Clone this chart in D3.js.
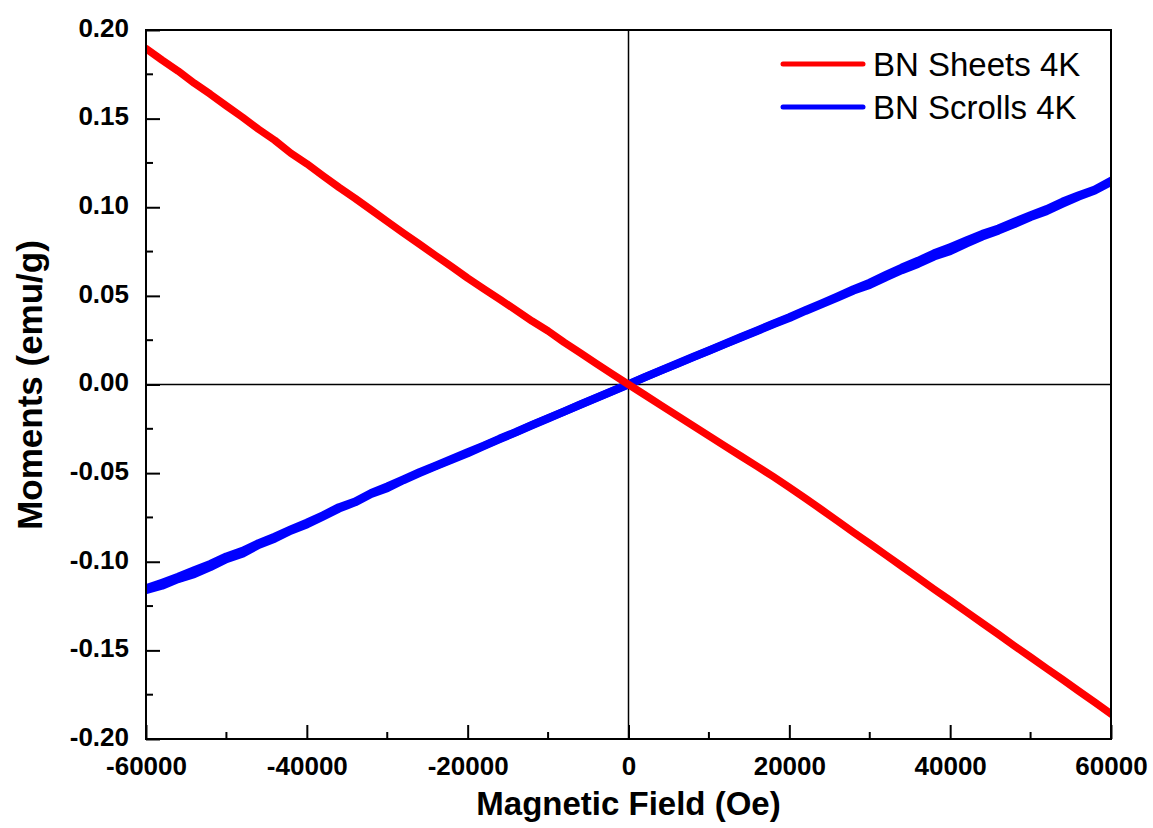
<!DOCTYPE html>
<html>
<head>
<meta charset="utf-8">
<script src="https://cdn.jsdelivr.net/npm/d3@7"></script>
<style>
  html, body { margin: 0; padding: 0; background: #fff; }
  svg { display: block; }
  text { font-family: "Liberation Sans", Arial, sans-serif; fill: #000; }
</style>
</head>
<body>
<svg id="chart" width="1153" height="828"></svg>
<script>
// ---- Data ----
const field = [
  -60000,-58000,-56000,-54000,-52000,-50000,-48000,-46000,-44000,-42000,
  -40000,-38000,-36000,-34000,-32000,-30000,-28000,-26000,-24000,-22000,
  -20000,-18000,-16000,-14000,-12000,-10000,-8000,-6000,-4000,-2000,
  0,2000,4000,6000,8000,10000,12000,14000,16000,18000,
  20000,22000,24000,26000,28000,30000,32000,34000,36000,38000,
  40000,42000,44000,46000,48000,50000,52000,54000,56000,58000,60000
];
const sheets4K = [
  0.1895,0.1830,0.1768,0.1700,0.1638,0.1572,0.1508,0.1440,0.1378,0.1305,
  0.1245,0.1178,0.1112,0.1050,0.0985,0.0920,0.0855,0.0792,0.0728,0.0665,
  0.0600,0.0540,0.0480,0.0420,0.0358,0.0302,0.0238,0.0178,0.0118,0.0058,
  0.0000,-0.0058,-0.0116,-0.0174,-0.0232,-0.0290,-0.0348,-0.0405,-0.0462,-0.0520,
  -0.0580,-0.0642,-0.0706,-0.0770,-0.0835,-0.0898,-0.0962,-0.1026,-0.1090,-0.1155,
  -0.1218,-0.1282,-0.1346,-0.1410,-0.1475,-0.1538,-0.1602,-0.1665,-0.1730,-0.1793,-0.1858
];
const scrolls4KUp = [
  -0.1160,-0.1135,-0.1098,-0.1070,-0.1030,-0.0985,-0.0955,-0.0905,-0.0870,-0.0825,
  -0.0790,-0.0745,-0.0700,-0.0665,-0.0618,-0.0585,-0.0540,-0.0500,-0.0462,-0.0425,
  -0.0388,-0.0348,-0.0308,-0.0270,-0.0230,-0.0192,-0.0153,-0.0114,-0.0076,-0.0038,
  0.0000,0.0040,0.0078,0.0115,0.0153,0.0190,0.0228,0.0265,0.0302,0.0340,
  0.0375,0.0415,0.0452,0.0490,0.0530,0.0562,0.0605,0.0645,0.0680,0.0722,
  0.0752,0.0795,0.0835,0.0868,0.0905,0.0945,0.0978,0.1020,0.1060,0.1095,0.1142
];
const scrolls4KDown = [
  -0.1150,-0.1118,-0.1085,-0.1048,-0.1012,-0.0970,-0.0938,-0.0895,-0.0858,-0.0818,
  -0.0780,-0.0738,-0.0692,-0.0660,-0.0612,-0.0575,-0.0535,-0.0495,-0.0458,-0.0420,
  -0.0382,-0.0345,-0.0305,-0.0268,-0.0228,-0.0190,-0.0152,-0.0113,-0.0075,-0.0037,
  0.0002,0.0041,0.0079,0.0117,0.0155,0.0192,0.0230,0.0268,0.0305,0.0343,
  0.0380,0.0420,0.0458,0.0497,0.0538,0.0575,0.0618,0.0660,0.0698,0.0740,
  0.0775,0.0812,0.0850,0.0880,0.0918,0.0955,0.0990,0.1032,0.1068,0.1100,0.1150
];
const xTicks = [-60000,-40000,-20000,0,20000,40000,60000];
const yTicks = [-0.20,-0.15,-0.10,-0.05,0.00,0.05,0.10,0.15,0.20];
const seriesNames = ["BN Sheets 4K","BN Scrolls 4K"];
const seriesColors = ["#ff0000","#0000ff"];

// ---- Layout ----
const svg = d3.select("#chart");
const L = 146, R = 1111, T = 30, B = 739;
const x = d3.scaleLinear().domain([-60000, 60000]).range([L, R]);
const y = d3.scaleLinear().domain([-0.20, 0.20]).range([B, T]);

const line = d3.line().x(d => x(d[0])).y(d => y(d[1]));

svg.append("defs").append("clipPath").attr("id", "plotclip")
  .append("rect").attr("x", L).attr("y", T).attr("width", R - L).attr("height", B - T);

// zero lines
svg.append("line").attr("x1", x(0)).attr("x2", x(0)).attr("y1", T).attr("y2", B)
  .attr("stroke", "#000").attr("stroke-width", 1.5);
svg.append("line").attr("x1", L).attr("x2", R).attr("y1", y(0)).attr("y2", y(0))
  .attr("stroke", "#000").attr("stroke-width", 1.5);

// data
const plot = svg.append("g").attr("clip-path", "url(#plotclip)");
const redPts = field.map((h, i) => [h, sheets4K[i]]);
const blueUp = field.map((h, i) => [h, scrolls4KUp[i]]);
const blueDown = field.map((h, i) => [h, scrolls4KDown[i]]);

plot.append("path").datum(blueUp).attr("d", line).attr("fill", "none")
  .attr("stroke", seriesColors[1]).attr("stroke-width", 8)
  .attr("stroke-linejoin", "round").attr("stroke-linecap", "round");
plot.append("path").datum(blueDown).attr("d", line).attr("fill", "none")
  .attr("stroke", seriesColors[1]).attr("stroke-width", 8)
  .attr("stroke-linejoin", "round").attr("stroke-linecap", "round");
plot.append("path").datum(redPts).attr("d", line).attr("fill", "none")
  .attr("stroke", seriesColors[0]).attr("stroke-width", 7.5)
  .attr("stroke-linejoin", "round").attr("stroke-linecap", "round");

// frame
svg.append("rect").attr("x", L).attr("y", T).attr("width", R - L).attr("height", B - T)
  .attr("fill", "none").attr("stroke", "#000").attr("stroke-width", 2);

// axes (ticks inside)
const xMinor = d3.range(-50000, 60001, 20000);
const yMinor = d3.range(-0.175, 0.2, 0.05);

const xAxis = svg.append("g").attr("transform", `translate(0,${B})`)
  .call(d3.axisBottom(x).tickValues(xTicks).tickSize(-14).tickPadding(0).tickFormat(d3.format("d")));
xAxis.select(".domain").remove();
xAxis.selectAll(".tick line").attr("stroke", "#000").attr("stroke-width", 2);
xAxis.selectAll(".tick text").attr("y", 36).attr("dy", 0)
  .style("font-size", "26px").style("font-weight", "bold")
  .style("font-family", "'Liberation Sans', Arial, sans-serif")
  .text(d => d3.format("d")(d).replace("−", "-"));
svg.append("g").selectAll("line").data(xMinor).join("line")
  .attr("x1", d => x(d)).attr("x2", d => x(d)).attr("y1", B).attr("y2", B - 7)
  .attr("stroke", "#000").attr("stroke-width", 2);

const yAxis = svg.append("g").attr("transform", `translate(${L},0)`)
  .call(d3.axisLeft(y).tickValues(yTicks).tickSize(-14).tickPadding(0));
yAxis.select(".domain").remove();
yAxis.selectAll(".tick line").attr("stroke", "#000").attr("stroke-width", 2);
yAxis.selectAll(".tick text").attr("x", -17).attr("dy", "0.24em")
  .style("font-size", "26px").style("font-weight", "bold")
  .style("font-family", "'Liberation Sans', Arial, sans-serif")
  .text(d => d3.format(".2f")(d).replace("−", "-"));
svg.append("g").selectAll("line").data(yMinor).join("line")
  .attr("x1", L).attr("x2", L + 7).attr("y1", d => y(d)).attr("y2", d => y(d))
  .attr("stroke", "#000").attr("stroke-width", 2);

// axis titles
svg.append("text").attr("x", (L + R) / 2).attr("y", 815)
  .attr("text-anchor", "middle").style("font-size", "33px").style("font-weight", "bold")
  .text("Magnetic Field (Oe)");
svg.append("text").attr("transform", `translate(42,385) rotate(-90)`)
  .attr("text-anchor", "middle").style("font-size", "35px").style("font-weight", "bold")
  .text("Moments (emu/g)");

// legend
const leg = svg.append("g");
const legY = [64, 107];
seriesNames.forEach((name, i) => {
  leg.append("line").attr("x1", 783).attr("x2", 863).attr("y1", legY[i]).attr("y2", legY[i])
    .attr("stroke", seriesColors[i]).attr("stroke-width", 5).attr("stroke-linecap", "round");
  leg.append("text").attr("x", 873).attr("y", legY[i]).attr("dy", "0.36em")
    .style("font-size", "33px").text(name);
});
</script>
</body>
</html>
